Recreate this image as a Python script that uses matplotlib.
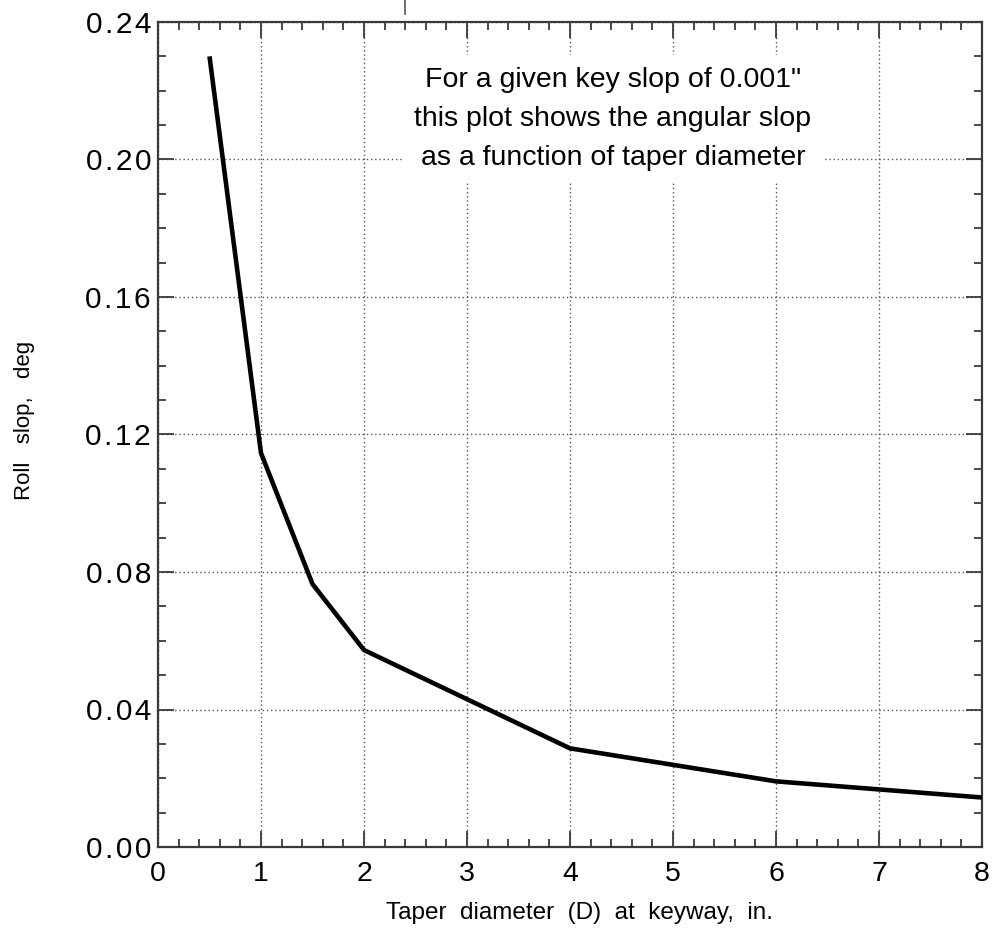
import matplotlib
matplotlib.use("Agg")
import matplotlib.pyplot as plt
from matplotlib.ticker import MultipleLocator
from matplotlib.lines import Line2D

diameter = [0.5, 1.0, 1.5, 2.0, 4.0, 6.0, 8.0]
roll_slop = [0.230, 0.1146, 0.0765, 0.0573, 0.0287, 0.0191, 0.0144]
x_ticks = [0, 1, 2, 3, 4, 5, 6, 7, 8]
y_ticks = [0.00, 0.04, 0.08, 0.12, 0.16, 0.20, 0.24]
y_tick_labels = ["0.00", "0.04", "0.08", "0.12", "0.16", "0.20", "0.24"]
note_lines = ["For a given key slop of 0.001\"",
              "this plot shows the angular slop",
              "as a function of taper diameter"]
x_label = "Taper diameter (D) at keyway, in."
y_label = "Roll slop, deg"

plt.rcParams['font.family'] = ['Liberation Sans', 'DejaVu Sans']

HAIR = "\u200a"


def track(s):
    return HAIR.join(s)


def wide_words(s, n=2):
    return (" " * n).join(s.split(" "))


fig = plt.figure(figsize=(9.94, 9.34), dpi=100)
ax = fig.add_axes([158/994, 1 - 847/934, (982-158)/994, (847-22)/934])

ax.plot(diameter, roll_slop, color='black', lw=3.3, solid_capstyle='butt', zorder=3)

ax.set_xlim(0, 8)
ax.set_ylim(0, 0.24)
ax.set_xticks(x_ticks)
ax.set_xticklabels([str(v) for v in x_ticks])
ax.set_yticks(y_ticks)
ax.set_yticklabels([track(t) for t in y_tick_labels])
ax.xaxis.set_minor_locator(MultipleLocator(0.2))
ax.yaxis.set_minor_locator(MultipleLocator(0.01))

ax.tick_params(which='both', direction='in', top=True, right=True, colors='#3a3a3a',
               labelcolor='black')
ax.tick_params(which='major', length=11.5, width=1.3)
ax.tick_params(which='minor', length=5.8, width=1.3)
ax.tick_params(axis='x', which='major', pad=10, labelsize=20.5)
ax.tick_params(axis='y', which='major', pad=5, labelsize=21.5)

ax.grid(True, which='major', linestyle=(0, (1, 2)), color='#555555', lw=1.0)

for s in ax.spines.values():
    s.set_color('#3a3a3a')
    s.set_linewidth(1.6)

fig.text(580/994, 1 - 913/934, wide_words(x_label), fontsize=17.5, ha='center', va='center')
fig.text(25/994, 1 - 420/934, wide_words(y_label, 3), fontsize=16, ha='center', va='center',
         rotation=90)

ax.text(0.552, 0.883, "\n".join(note_lines), transform=ax.transAxes, ha='center',
        va='center', fontsize=20.5, linespacing=1.65, zorder=4,
        bbox=dict(facecolor='white', edgecolor='none', pad=8))

fig.add_artist(Line2D([405/994, 405/994], [1.0, 1 - 14/934], color='#555555', lw=1.2))

fig.savefig("out.png", dpi=100)
